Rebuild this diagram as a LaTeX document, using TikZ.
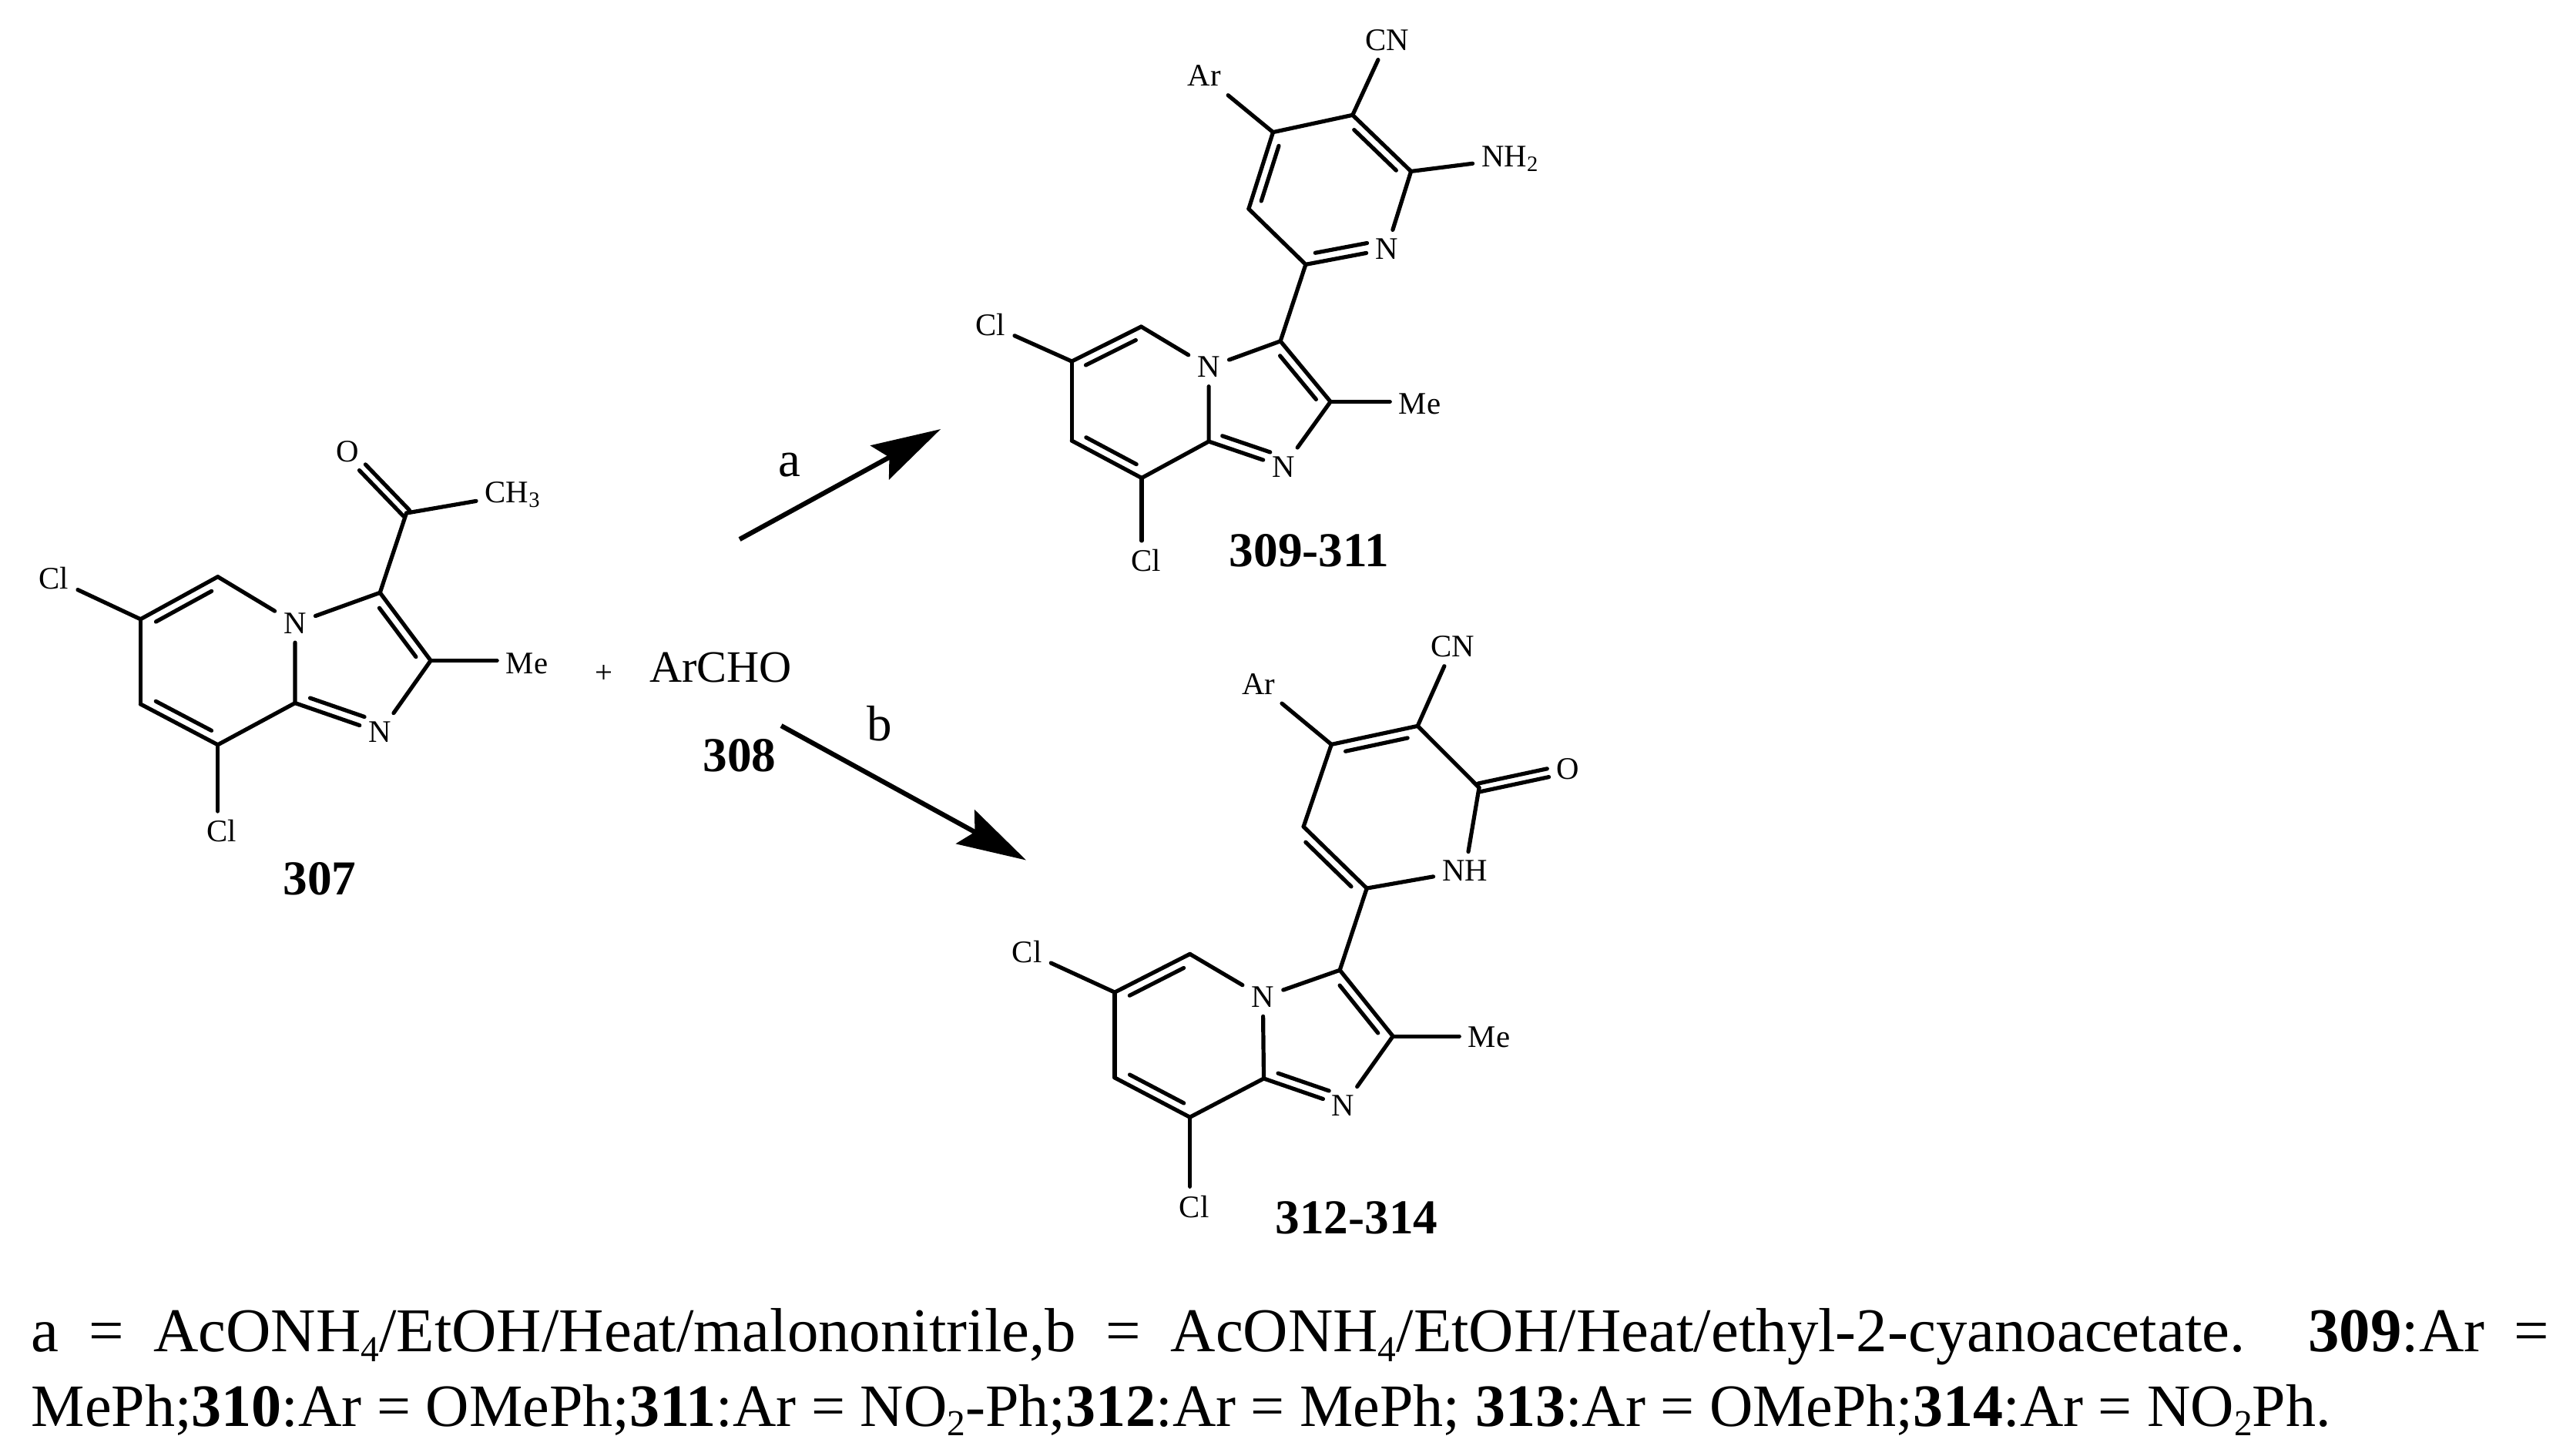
\documentclass[tikz,border=0pt]{standalone}
\usepackage{fontspec}
\setmainfont{Liberation Serif}
\usetikzlibrary{calc,arrows.meta}
\tikzset{
  bond/.style={line width=0.52mm,line cap=round},
  atom/.style={font={\fontsize{11.6pt}{13}\selectfont},inner sep=1.1mm},
  tag/.style={font={\fontsize{18pt}{20}\selectfont\bfseries},inner sep=0pt},
  cond/.style={font={\fontsize{18.5pt}{20}\selectfont},inner sep=0pt},
  react/.style={line width=0.62mm,-{Stealth[length=9mm,width=5mm,inset=1.4mm]}},
  caption/.style={font={\fontsize{22.2pt}{24}\selectfont},inner sep=0pt,anchor=base west}}
% inner line of a ring double bond (offsets go through scale=0.1)
\newcommand{\inbond}[4][.86]{\draw[bond] ($($(#2)!.14!(#3)$)!12.5mm!#4:(#3)$) -- ($($(#2)!#1!(#3)$)!12.5mm!#4:(#3)$);}
% C=O drawn as two lines
\newcommand{\cobond}[3][2.8mm]{
  \draw[bond,shorten >=#1] ($(#2)!5.5mm!90:(#3)$) -- ($(#3)!5.5mm!-90:(#2)$);
  \draw[bond,shorten >=#1] ($(#2)!5.5mm!-90:(#3)$) -- ($(#3)!5.5mm!90:(#2)$);}
% small subscript of the caption
\newcommand{\capsub}[1]{\raisebox{-.35ex}{\fontsize{13.5pt}{14}\selectfont #1}}
\begin{document}
\begin{tikzpicture}[scale=0.1]
\useasboundingbox (0,0) rectangle (334,-188.9);
% 307
\coordinate (c6a) at (18.24,-80.37);
\coordinate (c5a) at (28.27,-74.86);
\coordinate (c8aa) at (38.3,-91.25);
\coordinate (c8a) at (28.27,-96.67);
\coordinate (c7a) at (18.24,-91.39);
\coordinate (c3a) at (49.32,-76.93);
\coordinate (c2a) at (55.91,-85.74);
\coordinate (cka) at (52.75,-66.6);
\node [atom] (na) at (38.3,-80.9) {N};
\node [atom] (n1a) at (49.32,-95.06) {N};
\node [atom] (oa) at (45.1,-58.65) {O};
\node [atom] (mka) at (66.6,-64.2) {CH\textsubscript{3}};
\node [atom] (mea) at (68.4,-86.1) {Me};
\node [atom] (cl1a) at (7,-75.1) {Cl};
\node [atom] (cl2a) at (28.8,-107.9) {Cl};
\node [tag] (t307) at (41.5,-114.1) {307};
\node [atom,inner sep=0pt] (plus) at (78.4,-87.45) {+};
\node [font={\fontsize{16.6pt}{18}\selectfont},inner sep=0pt] (archo) at (93.57,-86.65) {ArCHO};
\node [tag] (t308) at (96,-98.1) {308};
\draw [bond] (c6a) -- (c5a);
\inbond{c6a}{c5a}{-90}
\draw [bond] (c5a) -- (na);
\draw [bond] (na) -- (c8aa);
\draw [bond] (c8aa) -- (c8a);
\draw [bond] (c8a) -- (c7a);
\inbond{c8a}{c7a}{-90}
\draw [bond] (c7a) -- (c6a);
\draw [bond] (na) -- (c3a);
\draw [bond] (c3a) -- (c2a);
\inbond{c3a}{c2a}{-90}
\draw [bond] (c2a) -- (n1a);
\draw [bond] (c8aa) -- (n1a);
\inbond[.78]{c8aa}{n1a}{90}
\draw [bond] (c3a) -- (cka);
\cobond{cka}{oa}
\draw [bond] (cka) -- (mka);
\draw [bond] (c2a) -- (c2a -| mea.west);
\draw [bond] (c6a) -- (cl1a);
\draw [bond] (c8a) -- (c8a |- cl2a.north);
% arrows
\coordinate (a0) at (96,-70);
\coordinate (a1) at (122.1,-55.7);
\coordinate (b0) at (101.4,-94.2);
\coordinate (b1) at (133.2,-111.65);
\draw [react] (a0) -- (a1);
\draw [react] (b0) -- (b1);
\node [cond] (la) at (102.5,-60.4) {a};
\node [cond] (lb) at (114.2,-93.9) {b};
% 309-311
\coordinate (c6b) at (139.12,-46.9);
\coordinate (c5b) at (148.13,-42.4);
\coordinate (c8ab) at (156.9,-57.3);
\coordinate (c8b) at (148.19,-62.04);
\coordinate (c7b) at (139.12,-57.2);
\coordinate (c3b) at (166.2,-44.28);
\coordinate (c2b) at (172.7,-52.14);
\coordinate (c6p) at (169.48,-34.33);
\coordinate (c5p) at (162.08,-27.11);
\coordinate (c4p) at (165.24,-17.16);
\coordinate (c3p) at (175.57,-14.93);
\coordinate (c2p) at (183.15,-22.24);
\node [atom] (nb) at (156.9,-47.66) {N};
\node [atom] (n1b) at (166.6,-60.6) {N};
\node [atom] (meb) at (184.3,-52.44) {Me};
\node [atom] (cl1b) at (128.6,-42.19) {Cl};
\node [atom] (cl2b) at (148.76,-72.79) {Cl};
\node [atom] (np) at (179.99,-32.34) {N};
\node [atom] (arb) at (156.34,-9.85) {Ar};
\node [atom] (cnb) at (180.05,-5.22) {CN};
\node [atom] (nh2) at (196.06,-20.6) {NH\textsubscript{2}};
\node [tag] (t309) at (169.94,-71.5) {309-311};
\draw [bond] (c6b) -- (c5b);
\inbond{c6b}{c5b}{-90}
\draw [bond] (c5b) -- (nb);
\draw [bond] (nb) -- (c8ab);
\draw [bond] (c8ab) -- (c8b);
\draw [bond] (c8b) -- (c7b);
\inbond{c8b}{c7b}{-90}
\draw [bond] (c7b) -- (c6b);
\draw [bond] (nb) -- (c3b);
\draw [bond] (c3b) -- (c2b);
\inbond{c3b}{c2b}{-90}
\draw [bond] (c2b) -- (n1b);
\draw [bond] (c8ab) -- (n1b);
\inbond[.78]{c8ab}{n1b}{90}
\draw [bond] (c2b) -- (c2b -| meb.west);
\draw [bond] (c6b) -- (cl1b);
\draw [bond] (c8b) -- (c8b |- cl2b.north);
\draw [bond] (c3b) -- (c6p);
\draw [bond] (c6p) -- (c5p);
\draw [bond] (c5p) -- (c4p);
\inbond{c5p}{c4p}{-90}
\draw [bond] (c4p) -- (c3p);
\draw [bond] (c3p) -- (c2p);
\inbond{c3p}{c2p}{-90}
\draw [bond] (c2p) -- (np);
\draw [bond] (c6p) -- (np);
\inbond[.78]{c6p}{np}{90}
\draw [bond] (c4p) -- (arb);
\draw [bond] (c3p) -- (cnb);
\draw [bond] (c2p) -- (nh2);
% 312-314
\coordinate (c6c) at (144.69,-128.8);
\coordinate (c5c) at (154.45,-123.83);
\coordinate (c8ac) at (164.04,-139.99);
\coordinate (c8c) at (154.45,-145.01);
\coordinate (c7c) at (144.69,-139.88);
\coordinate (c3c) at (173.91,-125.92);
\coordinate (c2c) at (180.8,-134.5);
\coordinate (c6q) at (177.41,-115.3);
\coordinate (c5q) at (169.2,-107.3);
\coordinate (c4q) at (172.82,-96.63);
\coordinate (c3q) at (184.01,-94.23);
\coordinate (c2q) at (191.99,-102.23);
\node [atom] (nc) at (163.92,-129.42) {N};
\node [atom] (n1c) at (174.37,-143.55) {N};
\node [atom] (mec) at (193.3,-134.65) {Me};
\node [atom] (cl1c) at (133.32,-123.57) {Cl};
\node [atom] (cl2c) at (155.02,-156.62) {Cl};
\node [atom] (nhq) at (190.16,-113.05) {NH};
\node [atom] (oq) at (203.47,-99.77) {O};
\node [atom] (arc) at (163.35,-88.79) {Ar};
\node [atom] (cnc) at (188.6,-83.92) {CN};
\node [tag] (t312) at (176.09,-158.08) {312-314};
\draw [bond] (c6c) -- (c5c);
\inbond{c6c}{c5c}{-90}
\draw [bond] (c5c) -- (nc);
\draw [bond] (nc) -- (c8ac);
\draw [bond] (c8ac) -- (c8c);
\draw [bond] (c8c) -- (c7c);
\inbond{c8c}{c7c}{-90}
\draw [bond] (c7c) -- (c6c);
\draw [bond] (nc) -- (c3c);
\draw [bond] (c3c) -- (c2c);
\inbond{c3c}{c2c}{-90}
\draw [bond] (c2c) -- (n1c);
\draw [bond] (c8ac) -- (n1c);
\inbond[.78]{c8ac}{n1c}{90}
\draw [bond] (c2c) -- (c2c -| mec.west);
\draw [bond] (c6c) -- (cl1c);
\draw [bond] (c8c) -- (c8c |- cl2c.north);
\draw [bond] (c3c) -- (c6q);
\draw [bond] (c6q) -- (c5q);
\inbond{c6q}{c5q}{90}
\draw [bond] (c5q) -- (c4q);
\draw [bond] (c4q) -- (c3q);
\inbond{c4q}{c3q}{-90}
\draw [bond] (c3q) -- (c2q);
\draw [bond] (c2q) -- (nhq);
\draw [bond] (c6q) -- (nhq);
\cobond[2.6mm]{c2q}{oq}
\draw [bond] (c4q) -- (arc);
\draw [bond] (c3q) -- (cnc);
% caption
\node [caption,font={\fontsize{23pt}{24}\selectfont}] (capa) at (4,-175.4) {\makebox[326.9mm][s]{a = AcONH\capsub{4}/EtOH/Heat/malononitrile,b = AcONH\capsub{4}/EtOH/Heat/ethyl-2-cyanoacetate. \textbf{309}:Ar =}};
\node [caption] (capb) at (4,-185.1) {MePh;\textbf{310}:Ar = OMePh;\textbf{311}:Ar = NO\capsub{2}-Ph;\textbf{312}:Ar = MePh; \textbf{313}:Ar = OMePh;\textbf{314}:Ar = NO\capsub{2}Ph.};
\end{tikzpicture}
\end{document}
